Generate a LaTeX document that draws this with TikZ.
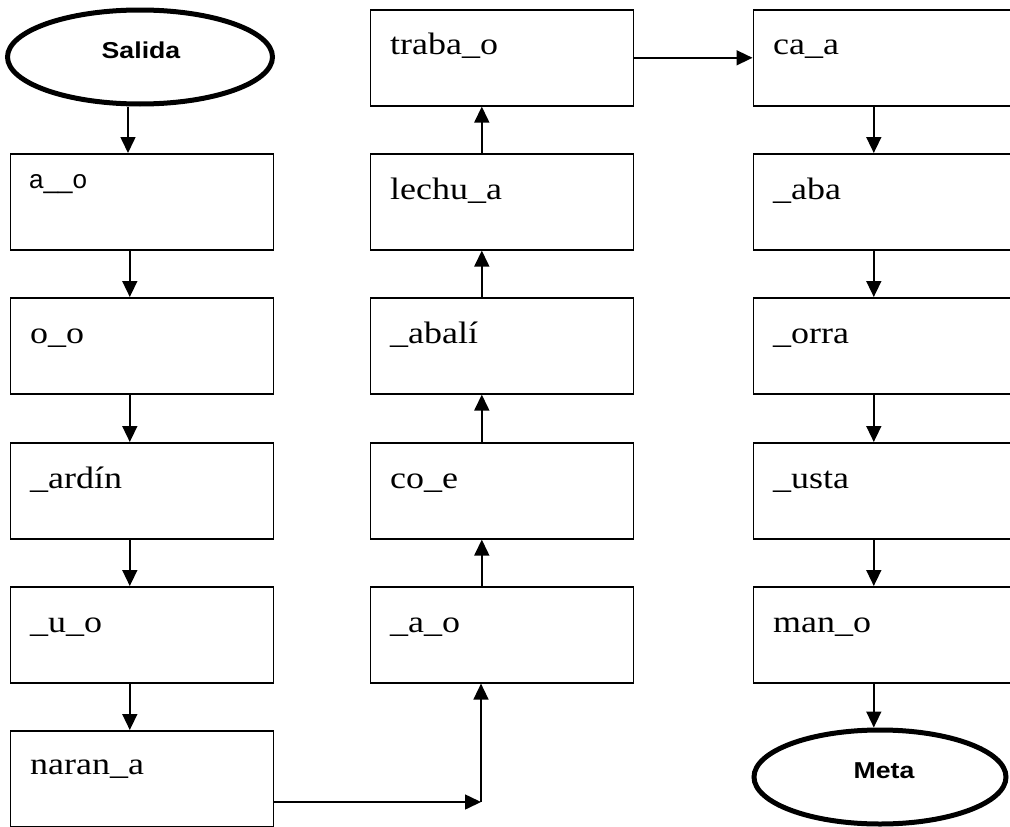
\documentclass[tikz,border=0pt]{standalone}
\usepackage{fontspec}
\setmainfont{Liberation Serif}
\newfontfamily\arialf{Liberation Sans}
\usetikzlibrary{arrows.meta,shapes.geometric,calc}
\newcommand\hs[1]{\scalebox{1.16}[1]{#1}}
\tikzset{
  box/.style={draw, line width=1.6pt, rectangle, minimum width=263pt, minimum height=96pt, anchor=north west, inner sep=0pt},
  lbl/.style={anchor=base west, inner sep=0pt, font=\fontsize{31}{36}\selectfont},
  term/.style={draw, ellipse, line width=5pt, inner sep=0pt},
  termtxt/.style={anchor=base, inner sep=0pt, font=\arialf\bfseries\fontsize{23}{27}\selectfont},
  arr/.style={line width=1.6pt, -{Triangle[length=16pt,width=15pt]}},
}
\begin{document}
\begin{tikzpicture}[x=1pt,y=-1pt]
\useasboundingbox (0,0) rectangle (1010,827);
\clip (0,0) rectangle (1010,827);
% terminals
\node[term, minimum width=265pt, minimum height=94pt] (s) at (140,57) {};
\node[termtxt] (st) at (141,58) {\hs{Salida}};
\node[term, minimum width=252pt, minimum height=94pt] (e) at (880,777) {};
\node[termtxt] (et) at (884,778) {\hs{Meta}};
% left column
\node[box] (l1) at (9.5,153) {};
\node[box] (l2) at (9.5,297) {};
\node[box] (l3) at (9.5,442) {};
\node[box] (l4) at (9.5,586) {};
\node[box] (l5) at (9.5,730) {};
\node[lbl, font=\arialf\fontsize{26}{30}\selectfont] (tl1) at (29,188) {a\_\_o};
\node[lbl] (tl2) at (30,343) {\hs{o\_o}};
\node[lbl] (tl3) at (30,488) {\hs{\_ardín}};
\node[lbl] (tl4) at (30,632) {\hs{\_u\_o}};
\node[lbl] (tl5) at (30,774) {\hs{naran\_a}};
% middle column
\node[box] (m1) at (369.5,9) {};
\node[box] (m2) at (369.5,153) {};
\node[box] (m3) at (369.5,297) {};
\node[box] (m4) at (369.5,442) {};
\node[box] (m5) at (369.5,586) {};
\node[lbl] (tm1) at (390,54) {\hs{traba\_o}};
\node[lbl] (tm2) at (390,199) {\hs{lechu\_a}};
\node[lbl] (tm3) at (390,343) {\hs{\_abalí}};
\node[lbl] (tm4) at (390,488) {\hs{co\_e}};
\node[lbl] (tm5) at (390,632) {\hs{\_a\_o}};
% right column
\node[box] (r1) at (752.5,9) {};
\node[box] (r2) at (752.5,153) {};
\node[box] (r3) at (752.5,297) {};
\node[box] (r4) at (752.5,442) {};
\node[box] (r5) at (752.5,586) {};
\node[lbl] (tr1) at (773,54) {\hs{ca\_a}};
\node[lbl] (tr2) at (773,199) {\hs{\_aba}};
\node[lbl] (tr3) at (773,343) {\hs{\_orra}};
\node[lbl] (tr4) at (773,488) {\hs{\_usta}};
\node[lbl] (tr5) at (773,632) {\hs{man\_o}};
% connectors left
\draw[arr] ([xshift=-12pt]s.south) -- ([xshift=-12pt]s.south |- l1.north);
\draw[arr] ([xshift=-12pt]l1.south) -- ([xshift=-12pt]l2.north);
\draw[arr] ([xshift=-12pt]l2.south) -- ([xshift=-12pt]l3.north);
\draw[arr] ([xshift=-12pt]l3.south) -- ([xshift=-12pt]l4.north);
\draw[arr] ([xshift=-12pt]l4.south) -- ([xshift=-12pt]l5.north);
% bottom link
\coordinate (c) at (481,802);
\draw[arr] (l5.east |- c) -- (c);
\draw[arr] (c) -- (c |- m5.south);
% middle up
\draw[arr] ([xshift=-20pt]m5.north) -- ([xshift=-20pt]m4.south);
\draw[arr] ([xshift=-20pt]m4.north) -- ([xshift=-20pt]m3.south);
\draw[arr] ([xshift=-20pt]m3.north) -- ([xshift=-20pt]m2.south);
\draw[arr] ([xshift=-20pt]m2.north) -- ([xshift=-20pt]m1.south);
% top link
\draw[arr] (m1.east) -- (r1.west);
% right down
\draw[arr] ([xshift=-11pt]r1.south) -- ([xshift=-11pt]r2.north);
\draw[arr] ([xshift=-11pt]r2.south) -- ([xshift=-11pt]r3.north);
\draw[arr] ([xshift=-11pt]r3.south) -- ([xshift=-11pt]r4.north);
\draw[arr] ([xshift=-11pt]r4.south) -- ([xshift=-11pt]r5.north);
\draw[arr] ([xshift=-11pt]r5.south) -- ([xshift=-11pt]r5.south |- e.north);
\end{tikzpicture}
\end{document}
